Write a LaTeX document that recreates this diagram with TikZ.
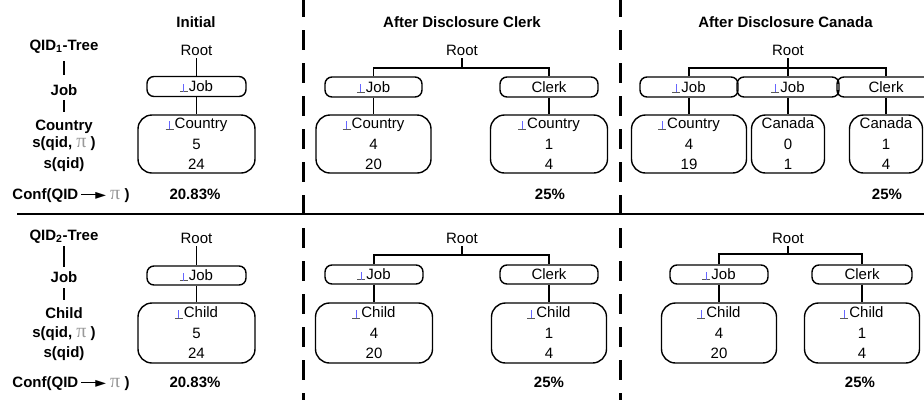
\documentclass[tikz,border=0pt]{standalone}
\usepackage{fontspec}
\setmainfont{Liberation Sans}
\newfontfamily\pifont{Liberation Serif}
\newfontfamily\djfont{DejaVu Sans}
\newcommand{\bsym}{\makebox[9pt][l]{\color{black!65}\rule[-0.8pt]{8pt}{0.9pt}\hspace*{-4.45pt}\color{blue!60}\rule[0pt]{0.9pt}{8pt}}}
\newcommand{\gpi}{{\pifont\mdseries\fontsize{20}{20}\selectfont\color{black!40}π}}
\newcommand{\confarrow}{\kern3pt\rule[3.6pt]{16pt}{1.8pt}\kern-2pt\raisebox{-0.6pt}{\djfont\fontsize{14}{14}\selectfont ►}}
\begin{document}
\begin{tikzpicture}[x=1pt,y=-1pt,
  font=\fontsize{15}{20.5}\selectfont,
  lab/.style={font=\fontsize{15}{20.5}\selectfont\bfseries, inner sep=0pt, anchor=base},
  txt/.style={inner sep=0pt, anchor=base},
  sb/.style={draw, line width=1.4pt, rounded corners=7pt, minimum height=20pt, inner sep=0pt, minimum width=#1},
  sb/.default=98,
  bb/.style={draw, line width=1.4pt, rounded corners=14pt, minimum height=58pt, inner sep=0pt, align=center, minimum width=#1},
  bb/.default=116,
  conn/.style={line width=1.4pt},
  dsh/.style={line width=3pt, dash pattern=on 20pt off 13pt, dash phase=3pt}]
\clip (0,0) rectangle (924,400);
\fill[white] (0,0) rectangle (924,400);

% separators
\draw[dsh] (303,0) -- (303,400);
\draw[dsh] (620,0) -- (620,400);
\draw[line width=2pt] (17,214) -- (924,214);

% titles
\node[lab] (t1) at (196,27) {Initial};
\node[lab] (t2) at (462,27) {After Disclosure Clerk};
\node[lab] (t3) at (785.5,27) {After Disclosure Canada};

% left labels upper
\node[lab] (q1) at (64,50) {QID\textsubscript{1}-Tree};
\node[lab] (lj1) at (64,95) {Job};
\node[lab] (lc1) at (64,130) {Country};
\node[lab] (ls1) at (64,147) {s(qid, \gpi\ )};
\node[lab] (lq1) at (64,168) {s(qid)};
\node[lab] (cf1) at (71,199) {Conf(QID\confarrow\ \gpi\ )};
\draw[conn] ([yshift=-8pt]q1.south) -- ([yshift=9pt]lj1.north);
\draw[conn] ([yshift=-5pt]lj1.south) -- ([yshift=7pt]lc1.north);

% left labels lower
\node[lab] (q2) at (64,240) {QID\textsubscript{2}-Tree};
\node[lab] (lj2) at (64,282) {Job};
\node[lab] (lc2) at (64,318) {Child};
\node[lab] (ls2) at (64,337) {s(qid, \gpi\ )};
\node[lab] (lq2) at (64,357) {s(qid)};
\node[lab] (cf2) at (71,387) {Conf(QID\confarrow\ \gpi\ )};
\draw[conn] ([yshift=-3pt]q2.south) -- ([yshift=4pt]lj2.north);
\draw[conn] ([yshift=-6pt]lj2.south) -- ([yshift=7pt]lc2.north);

% initial upper
\node[txt] (r1) at (196.5,55) {Root};
\node[sb=99] (j1) at (196.5,86.5) {\bsym Job};
\node[bb=117] (c1) at (196.5,144) {\bsym Country\\5\\24};
\draw[conn] ([yshift=-3pt]r1.south) -- (j1.north);
\draw[conn] (j1.south) -- (c1.north);
\node[lab] (p1) at (195,199) {20.83\%};

% clerk upper
\node[txt] (r2) at (462,55) {Root};
\coordinate (h2) at (462,68);
\node[sb=97] (j2) at (373.5,87) {\bsym Job};
\node[sb=98] (k2) at (549,87) {Clerk};
\node[bb=115] (c2a) at (373.5,144) {\bsym Country\\4\\20};
\node[bb=117] (c2b) at (549,144) {\bsym Country\\1\\4};
\draw[conn] ([yshift=-3pt]r2.south) -- (h2);
\draw[conn] (j2.north) |- (h2) -| (k2.north);
\draw[conn] (j2.south) -- (c2a.north);
\draw[conn] (k2.south) -- (c2b.north);
\node[lab] (p2) at (550,199) {25\%};

% canada upper
\node[txt] (r3) at (788,55) {Root};
\coordinate (h3) at (788,68);
\node[sb=98] (j3a) at (689,87) {\bsym Job};
\node[sb=102] (j3b) at (788,87) {\bsym Job};
\node[sb=98] (k3) at (886,87) {Clerk};
\node[bb=115] (c3a) at (689,144) {\bsym Country\\4\\19};
\node[bb=73] (c3b) at (788,144) {Canada\\0\\1};
\node[bb=73] (c3c) at (886,144) {Canada\\1\\4};
\draw[conn] ([yshift=-3pt]r3.south) -- (j3b.north);
\draw[conn] (j3a.north) |- (h3) -| (k3.north);
\draw[conn] (j3a.south) -- (c3a.north);
\draw[conn] (j3b.south) -- (c3b.north);
\draw[conn] (k3.south) -- (c3c.north);
\node[lab] (p3) at (887,199) {25\%};

% initial lower
\node[txt] (r4) at (196.5,243) {Root};
\node[sb=99, minimum height=19pt] (j4) at (196.5,275.5) {\bsym Job};
\node[bb=117, minimum height=60pt] (c4) at (196.5,333) {\bsym Child\\5\\24};
\draw[conn] ([yshift=-3pt]r4.south) -- (j4.north);
\draw[conn] (j4.south) -- (c4.north);
\node[lab] (p4) at (195,387) {20.83\%};

% clerk lower
\node[txt] (r5) at (462,243) {Root};
\coordinate (h5) at (462,255);
\node[sb=98, minimum height=19pt] (j5) at (374,274.5) {\bsym Job};
\node[sb=98, minimum height=19pt] (k5) at (549,274.5) {Clerk};
\node[bb=117, minimum height=60pt] (c5a) at (374,333) {\bsym Child\\4\\20};
\node[bb=115, minimum height=60pt] (c5b) at (549,333) {\bsym Child\\1\\4};
\draw[conn] ([yshift=-3pt]r5.south) -- (h5);
\draw[conn] (j5.north) |- (h5) -| (k5.north);
\draw[conn] (j5.south) -- (c5a.north);
\draw[conn] (k5.south) -- (c5b.north);
\node[lab] (p5) at (549,387) {25\%};

% canada lower
\node[txt] (r6) at (788,243) {Root};
\coordinate (h6) at (788,254);
\node[sb=98, minimum height=19pt] (j6) at (719,274.5) {\bsym Job};
\node[sb=100, minimum height=19pt] (k6) at (862,274.5) {Clerk};
\node[bb=115, minimum height=60pt] (c6a) at (719,333) {\bsym Child\\4\\20};
\node[bb=115, minimum height=60pt] (c6b) at (862,333) {\bsym Child\\1\\4};
\draw[conn] ([yshift=-3pt]r6.south) -- (h6);
\draw[conn] (j6.north) |- (h6) -| (k6.north);
\draw[conn] (j6.south) -- (c6a.north);
\draw[conn] (k6.south) -- (c6b.north);
\node[lab] (p6) at (860,387) {25\%};
\end{tikzpicture}
\end{document}
